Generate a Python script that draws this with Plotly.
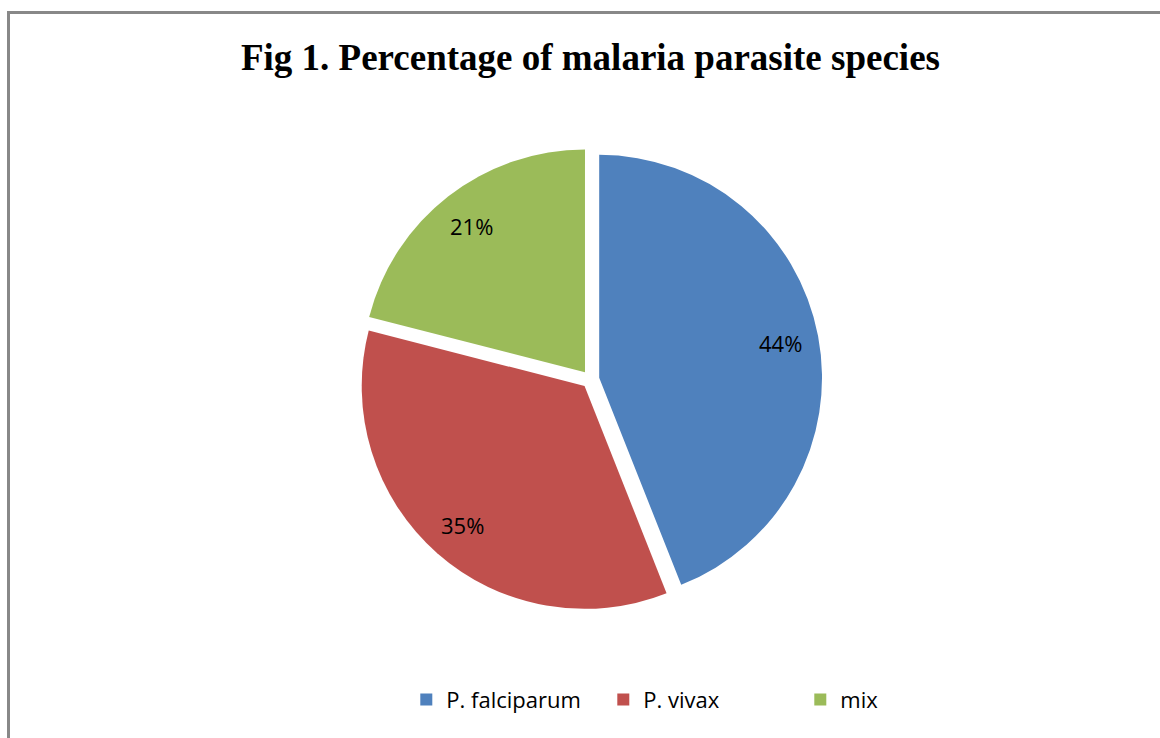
import math
import plotly.graph_objects as go

# Species share of malaria parasite infections
species = ["P. falciparum", "P. vivax", "mix"]
percent = [44, 35, 21]
colors = ["#4F81BD", "#C0504D", "#9BBB59"]
pulls = [0.04, 0.04, 0.04]

W, H = 1160, 738
dom_x = [0.309, 0.709]
dom_y = [0.172, 0.80]

label_font = dict(family="Open Sans, sans-serif", size=22, color="#000000")

fig = go.Figure(
    go.Pie(
        labels=species,
        values=percent,
        sort=False,
        direction="clockwise",
        rotation=0,
        pull=pulls,
        marker=dict(colors=colors, line=dict(width=0)),
        textinfo="none",
        hoverinfo="label+percent",
        domain=dict(x=dom_x, y=dom_y),
    )
)

# Percentage labels placed along each slice's bisector, near the rim
dw = (dom_x[1] - dom_x[0]) * W
dh = (dom_y[1] - dom_y[0]) * H
radius = min(dw, dh) / 2 / (1 + max(pulls))
cx = (dom_x[0] + dom_x[1]) / 2 * W
cy = (1 - (dom_y[0] + dom_y[1]) / 2) * H
total = sum(percent)
cum = 0
annotations = []
for val, pull in zip(percent, pulls):
    theta = math.radians((cum + val / 2) / total * 360)
    cum += val
    dist = pull * radius + 0.83 * radius
    px = cx + dist * math.sin(theta)
    py = cy - dist * math.cos(theta)
    annotations.append(
        dict(
            x=px / W,
            y=1 - py / H,
            xref="paper",
            yref="paper",
            text=f"{val}%",
            showarrow=False,
            font=label_font,
            xanchor="center",
            yanchor="middle",
        )
    )

fig.update_layout(
    width=W,
    height=H,
    margin=dict(l=0, r=0, t=0, b=0),
    paper_bgcolor="white",
    plot_bgcolor="white",
    title=dict(
        text="<b>Fig 1. Percentage of malaria parasite species</b>",
        font=dict(family="Liberation Serif, Times New Roman, serif", size=37, color="#000000"),
        x=0.509,
        xanchor="center",
        y=0.923,
        yanchor="middle",
    ),
    legend=dict(
        orientation="h",
        x=0.605,
        xanchor="center",
        y=0.052,
        yanchor="middle",
        font=label_font,
        itemwidth=30,
        entrywidthmode="pixels",
        entrywidth=152,
        traceorder="normal",
    ),
    annotations=annotations,
    shapes=[
        dict(
            type="rect",
            xref="paper",
            yref="paper",
            x0=8.5 / W,
            x1=1.05,
            y0=-0.05,
            y1=1 - 12.5 / H,
            line=dict(color="#888888", width=3),
            fillcolor="rgba(0,0,0,0)",
            layer="above",
        )
    ],
)

fig.write_html("out.html")
